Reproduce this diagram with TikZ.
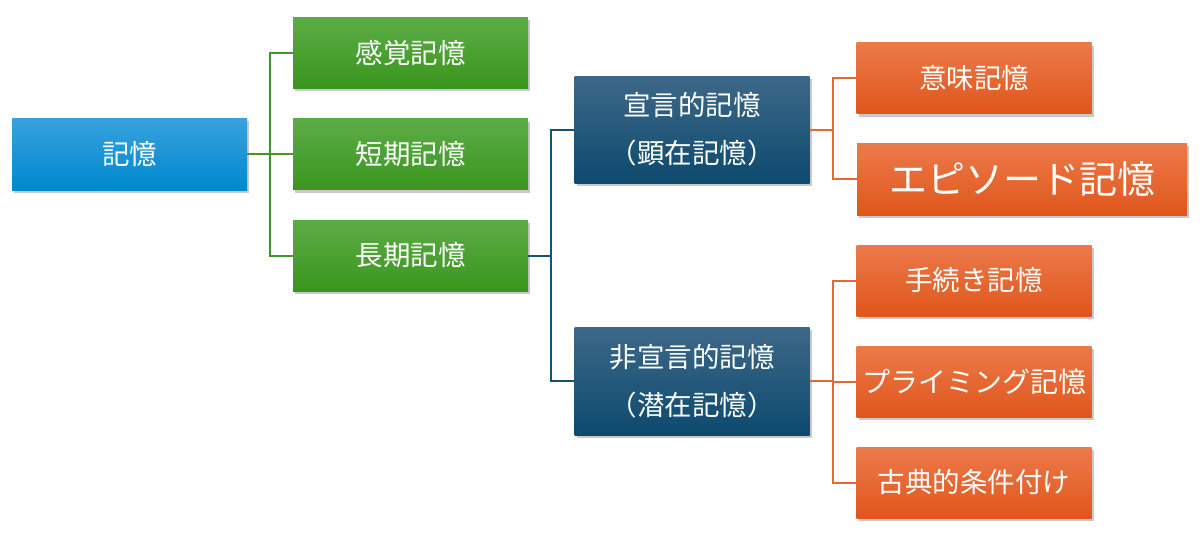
\documentclass[tikz,border=0pt]{standalone}
\usepackage{fontspec}
\setmainfont{Noto Sans CJK JP}
\usetikzlibrary{shadows}
\definecolor{bluetop}{RGB}{55,162,222}
\definecolor{bluebot}{RGB}{0,136,206}
\definecolor{greentop}{RGB}{92,172,70}
\definecolor{greenbot}{RGB}{58,150,30}
\definecolor{navytop}{RGB}{62,104,136}
\definecolor{navybot}{RGB}{12,74,110}
\definecolor{orangetop}{RGB}{236,122,74}
\definecolor{orangebot}{RGB}{224,86,28}
\definecolor{gline}{RGB}{62,152,40}
\definecolor{nline}{RGB}{22,82,118}
\definecolor{oline}{RGB}{232,104,52}
\tikzset{
  box/.style={rectangle, minimum width=235pt, minimum height=71pt, inner sep=0pt,
    text=white, align=center, font=\fontsize{27.5}{48}\selectfont,
    drop shadow={shadow xshift=2pt, shadow yshift=-3pt, opacity=0.3, fill=black!70}},
  bluebox/.style={box, top color=bluetop, bottom color=bluebot},
  greenbox/.style={box, top color=greentop, bottom color=greenbot},
  navybox/.style={box, minimum height=107pt, top color=navytop, bottom color=navybot},
  orangebox/.style={box, top color=orangetop, bottom color=orangebot},
  conn/.style={line width=2pt},
}
\begin{document}
\begin{tikzpicture}[x=1pt,y=-1pt]
\useasboundingbox (0,0) rectangle (1200,536);
\node[bluebox, minimum height=72pt] (kioku) at (129.5,154) {記憶};
\node[greenbox] (kankaku) at (410.5,52.5) {感覚記憶};
\node[greenbox] (tanki) at (410.5,154) {短期記憶};
\node[greenbox] (choki) at (410.5,255.5) {長期記憶};
\node[navybox] (sengen) at (692,129.5) {宣言的記憶\\（顕在記憶）};
\node[navybox, minimum height=108pt] (hisengen) at (692,381) {非宣言的記憶\\（潜在記憶）};
\node[orangebox] (imi) at (974,78) {意味記憶};
\node[orangebox, minimum width=330pt, minimum height=72pt, font=\fontsize{38}{42}\selectfont] (episode) at (1022,179) {エピソード記憶};
\node[orangebox] (tetsuzuki) at (974,280.5) {手続き記憶};
\node[orangebox, font=\fontsize{28}{32}\selectfont] (priming) at (974,381.5) {プライミング記憶};
\node[orangebox] (koten) at (974,482.5) {古典的条件付け};
\coordinate (j1) at (270,154);
\coordinate (j2) at (551,255.5);
\coordinate (j3) at (833,129.5);
\coordinate (j4) at (833,381);
\draw[conn, gline] (kioku.east) -- (j1);
\draw[conn, gline] (j1) |- (kankaku.west);
\draw[conn, gline] (j1) |- (tanki.west);
\draw[conn, gline] (j1) |- (choki.west);
\draw[conn, nline] (choki.east) -- (j2);
\draw[conn, nline] (j2) |- (sengen.west);
\draw[conn, nline] (j2) |- (hisengen.west);
\draw[conn, oline] (sengen.east) -- (j3);
\draw[conn, oline] (j3) |- (imi.west);
\draw[conn, oline] (j3) |- (episode.west);
\draw[conn, oline] (hisengen.east) -- (j4);
\draw[conn, oline] (j4) |- (tetsuzuki.west);
\draw[conn, oline] (j4) |- (priming.west);
\draw[conn, oline] (j4) |- (koten.west);
\end{tikzpicture}
\end{document}
